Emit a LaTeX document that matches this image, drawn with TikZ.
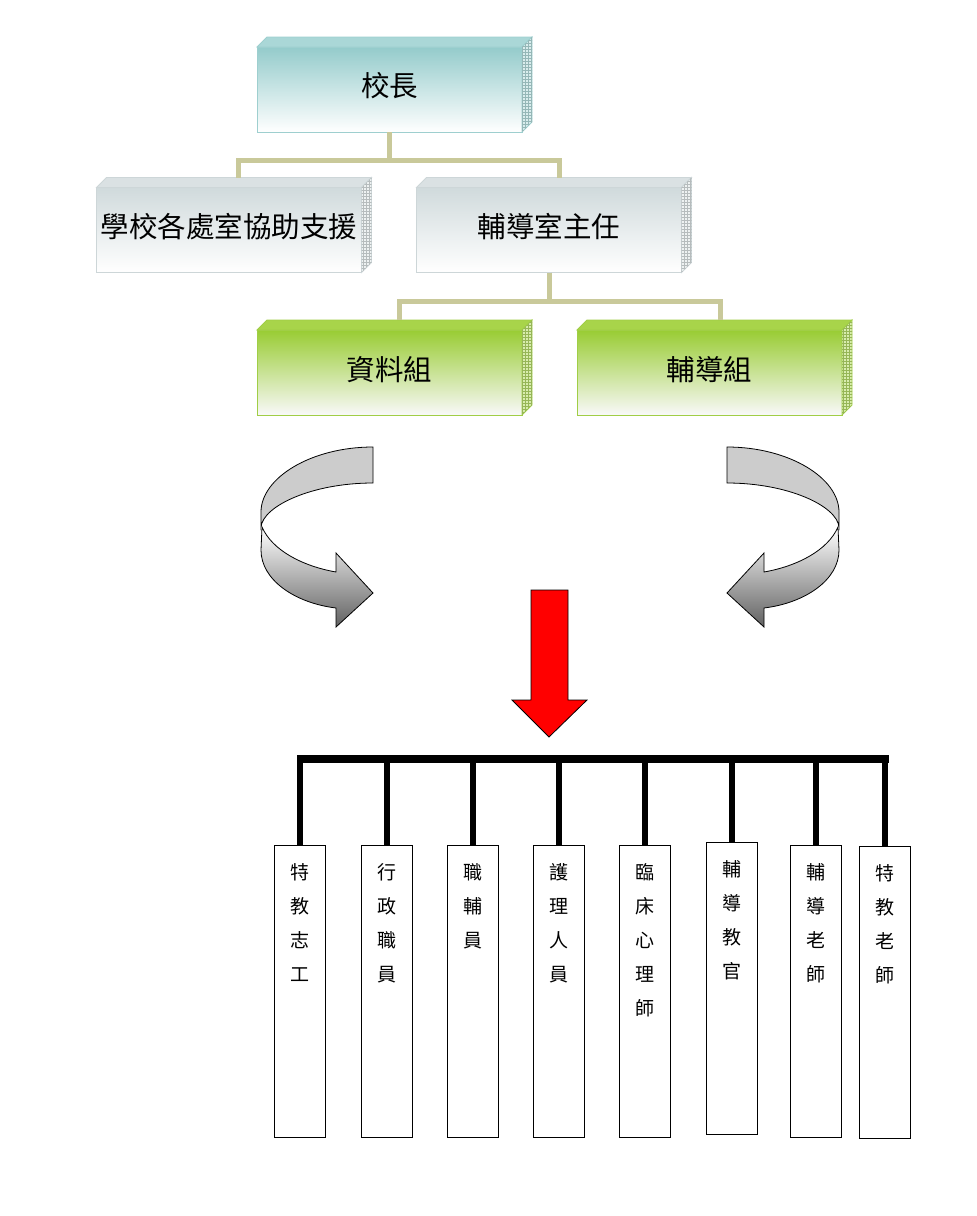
\documentclass[tikz,border=0pt]{standalone}
\usepackage{fontspec}
\setmainfont{Noto Sans CJK TC}
\usetikzlibrary{patterns}
\definecolor{tealA}{RGB}{148,203,203}
\definecolor{tealT}{RGB}{170,215,215}
\definecolor{tealE}{RGB}{158,207,207}
\definecolor{grayA}{RGB}{208,218,220}
\definecolor{grayT}{RGB}{218,225,227}
\definecolor{grayE}{RGB}{205,214,216}
\definecolor{greenA}{RGB}{153,204,51}
\definecolor{greenT}{RGB}{168,212,74}
\definecolor{greenE}{RGB}{160,206,70}
\definecolor{connC}{RGB}{201,201,154}
\newcommand\depthfaces[3]{%
  \filldraw[fill=#2, draw=#3, line width=0.8pt] (#1.north west) -- ++(10,-10) -- ([shift={(10,-10)}]#1.north east) -- (#1.north east) -- cycle;
  \filldraw[fill=#2!45!white, draw=#3, line width=0.8pt] (#1.north east) -- ++(10,-10) -- ([shift={(10,-10)}]#1.south east) -- (#1.south east) -- cycle;
  \fill[pattern=grid, pattern color=#3!70!gray] (#1.north east) -- ++(10,-10) -- ([shift={(10,-10)}]#1.south east) -- (#1.south east) -- cycle;
}
\newcommand\stafftext[1]{\parbox[c][292pt][t]{51pt}{\fontsize{19}{34}\selectfont\centering\rule{0pt}{34pt}#1\par}}
\tikzset{
  orgbox/.style={rectangle, minimum width=265pt, minimum height=85pt, inner sep=0pt, outer sep=0pt, line width=1pt, font=\fontsize{28.5}{30}\selectfont},
  tealbox/.style={orgbox, draw=tealE, top color=tealA, middle color=tealA!20!white, bottom color=white},
  graybox/.style={orgbox, draw=grayE, top color=grayA, middle color=grayA!35!white, bottom color=white},
  greenbox/.style={orgbox, draw=greenE, top color=greenA, middle color=greenA!25!white, bottom color=white!95!gray},
  orgline/.style={draw=connC, line width=5pt},
  staffbox/.style={rectangle, draw=black, line width=1pt, minimum width=51pt, minimum height=292pt, inner sep=0pt, outer sep=0pt, fill=white},
  busline/.style={draw=black, line width=8pt},
  dropline/.style={draw=black, line width=6pt},
  ribbonback/.style={fill=gray!40, draw=black, line width=0.8pt},
  ribbonfront/.style={top color=white, middle color=gray!30, bottom color=black!62, draw=black, line width=0.8pt},
  redarrow/.style={fill=red, draw=black, line width=0.8pt}
}
\begin{document}
\begin{tikzpicture}[x=1pt,y=-1pt]
\useasboundingbox (0,0) rectangle (977,1216);
\fill[white] (0,0) rectangle (977,1216);

% top boxes
\node[tealbox] (principal) at (389.5,89.5) {\raisebox{10pt}{校長}};
\depthfaces{principal}{tealT}{tealE}
\node[graybox] (support) at (229,230) {\raisebox{9pt}{學校各處室協助支援}};
\depthfaces{support}{grayT}{grayE}
\node[graybox] (director) at (549,230) {\raisebox{9pt}{輔導室主任}};
\depthfaces{director}{grayT}{grayE}
\node[greenbox] (data) at (389.5,372.5) {\raisebox{9pt}{資料組}};
\depthfaces{data}{greenT}{greenE}
\node[greenbox] (guidance) at (709.5,372.5) {\raisebox{9pt}{輔導組}};
\depthfaces{guidance}{greenT}{greenE}

% connectors
\draw[orgline] (principal.south) -- ++(0,28) -| ([shift={(9,-10)}]support.north);
\draw[orgline] (principal.south) -- ++(0,28) -| ([shift={(10,-10)}]director.north);
\draw[orgline] (director.south) -- ++(0,29) -| ([shift={(10,-10)}]data.north);
\draw[orgline] (director.south) -- ++(0,29) -| ([shift={(11,-10)}]guidance.north);

% curved arrows
\foreach \sh/\sc in {0/1, 1100/-1}{
\begin{scope}[shift={(\sh,0)}, xscale=\sc]
  \path[ribbonback] (373,447) .. controls (311,447) and (261,478) .. (261,512)
     -- (261,527) .. controls (263,506) and (312,483) .. (373,483) -- cycle;
  \path[ribbonfront] (262,527) -- (261,550) .. controls (261,580) and (295,603) .. (336,608)
     -- (336,627) -- (373,593) -- (336,553) -- (336,572)
     .. controls (302,566) and (272,550) .. (262,527) -- cycle;
\end{scope}
}

% red arrow
\path[redarrow] (531,590) -- (568,590) -- (568,700) -- (587,700) -- (549,737) -- (512,700) -- (531,700) -- cycle;

% staff boxes
\node[staffbox] (s1) at (300,991) {\stafftext{特\\教\\志\\工}};
\node[staffbox] (s2) at (386.5,991) {\stafftext{行\\政\\職\\員}};
\node[staffbox] (s3) at (472.5,991) {\stafftext{職\\輔\\員}};
\node[staffbox] (s4) at (558.5,991) {\stafftext{護\\理\\人\\員}};
\node[staffbox] (s5) at (644.5,991) {\stafftext{臨\\床\\心\\理\\師}};
\node[staffbox] (s6) at (731.5,988) {\stafftext{輔\\導\\教\\官}};
\node[staffbox] (s7) at (816,991) {\stafftext{輔\\導\\老\\師}};
\node[staffbox] (s8) at (884.5,992.5) {\stafftext{特\\教\\老\\師}};

% bus
\coordinate (busL) at (297,759);
\coordinate (busR) at (889,759);
\draw[busline] (busL) -- (busR);
\foreach \b in {s1,s2,s3,s4,s5,s6,s7,s8}{
  \draw[dropline] (\b.north |- busL) -- (\b.north);
}
\end{tikzpicture}
\end{document}
